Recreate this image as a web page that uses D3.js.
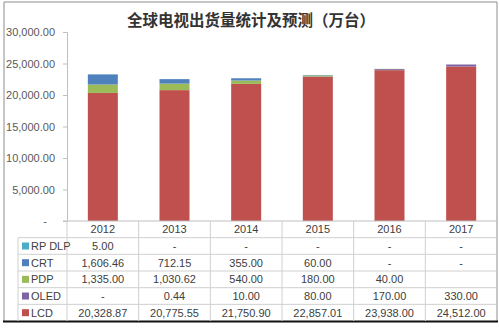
<!DOCTYPE html>
<html>
<head>
<meta charset="utf-8">
<script src="https://cdn.jsdelivr.net/npm/d3@7/dist/d3.min.js"></script>
<style>
  html, body { margin: 0; padding: 0; background: #fff; }
  svg { display: block; }
</style>
</head>
<body>
<svg id="chart" width="499" height="328"></svg>
<script>
// Global TV shipments by display technology (万台)
const years = ["2012", "2013", "2014", "2015", "2016", "2017"];
// stacking order, bottom to top
const seriesNames = ["LCD", "OLED", "PDP", "CRT", "RP DLP"];
const lcd   = [20328.87, 20775.55, 21750.90, 22857.01, 23938.00, 24512.00];
const oled  = [0, 0.44, 10.00, 80.00, 170.00, 330.00];
const pdp   = [1335.00, 1030.62, 540.00, 180.00, 40.00, null];
const crt   = [1606.46, 712.15, 355.00, 60.00, 0, 0];
const rpdlp = [5.00, 0, 0, 0, 0, 0];
const yTicks = [0, 5000, 10000, 15000, 20000, 25000, 30000];
const titleText = "全球电视出货量统计及预测（万台）";

const seriesValues = { "LCD": lcd, "OLED": oled, "PDP": pdp, "CRT": crt, "RP DLP": rpdlp };
const colors = { "LCD": "#C0504D", "OLED": "#8064A2", "PDP": "#9BBB59", "CRT": "#4F81BD", "RP DLP": "#4BACC6" };

const svg = d3.select("#chart");
const W = 499, H = 328;
const plot = { left: 67, right: 497, top: 32, bottom: 221 };
const tableLeft = 18, rowH = 16.67;
const txt = "#404040";
const lineCol = "#d0d0d0";
const font = "'Liberation Sans', Arial, sans-serif";

// frame
svg.append("rect").attr("width", W).attr("height", H).attr("fill", "#fff");
svg.append("path")
  .attr("d", `M4,321 L4,2 L497,2 L497,321`)
  .attr("fill", "none").attr("stroke", "#8c8c8c").attr("stroke-width", 1);
svg.append("line").attr("x1", 3).attr("x2", 498).attr("y1", 321.5).attr("y2", 321.5)
  .attr("stroke", "#111").attr("stroke-width", 2);

// title
svg.append("text")
  .attr("x", 251).attr("y", 26)
  .attr("text-anchor", "middle")
  .attr("font-family", "'Noto Sans CJK SC', sans-serif")
  .attr("font-weight", 600)
  .attr("font-size", 15.5)
  .attr("fill", "#333")
  .text(titleText);

// scales
const x = d3.scaleBand().domain(years).range([plot.left, plot.right]).paddingInner(0).paddingOuter(0);
const y = d3.scaleLinear().domain([0, 30000]).range([plot.bottom, plot.top]);

// stacked bars
const rows = years.map((yr, i) => {
  const r = { year: yr };
  seriesNames.forEach(s => { r[s] = seriesValues[s][i] || 0; });
  return r;
});
const stack = d3.stack().keys(seriesNames)(rows);
const barW = 30;
svg.append("g").selectAll("g")
  .data(stack).join("g")
  .attr("fill", d => colors[d.key])
  .selectAll("rect")
  .data(d => d).join("rect")
  .attr("x", d => x(d.data.year) + x.bandwidth() / 2 - barW / 2)
  .attr("width", barW)
  .attr("y", d => y(d[1]))
  .attr("height", d => Math.max(0, y(d[0]) - y(d[1])));

// y axis
const yAxis = d3.axisLeft(y)
  .tickValues(yTicks)
  .tickSize(4)
  .tickFormat(v => v === 0 ? "-" : d3.format(",.2f")(v));
const ga = svg.append("g").attr("transform", `translate(${plot.left},0)`).call(yAxis);
ga.select(".domain").attr("stroke", "#bfbfbf");
ga.selectAll(".tick line").attr("stroke", "#bfbfbf");
ga.selectAll(".tick text")
  .attr("x", -12)
  .attr("font-family", font).attr("font-size", 11).attr("fill", "#595959");
ga.selectAll(".tick").filter(d => d === 0).select("text").attr("x", -20);

// data table
const tbl = svg.append("g");
const tableRows = ["RP DLP", "CRT", "PDP", "OLED", "LCD"];
const tableBottom = plot.bottom + rowH * 6;

// horizontal lines
for (let k = 0; k < 6; k++) {
  const yy = plot.bottom + rowH * k;
  tbl.append("line")
    .attr("x1", k === 0 ? plot.left - 4 : tableLeft).attr("x2", plot.right)
    .attr("y1", yy).attr("y2", yy)
    .attr("stroke", k === 0 ? "#bfbfbf" : lineCol);
}
// vertical lines
years.forEach(yr => {
  tbl.append("line")
    .attr("x1", x(yr)).attr("x2", x(yr))
    .attr("y1", plot.bottom).attr("y2", tableBottom)
    .attr("stroke", lineCol);
});
tbl.append("line")
  .attr("x1", tableLeft).attr("x2", tableLeft)
  .attr("y1", plot.bottom + rowH).attr("y2", tableBottom)
  .attr("stroke", lineCol);

// header: years
tbl.selectAll("text.yr").data(years).join("text")
  .attr("class", "yr")
  .attr("x", d => x(d) + x.bandwidth() / 2)
  .attr("y", plot.bottom + rowH / 2 + 4)
  .attr("text-anchor", "middle")
  .attr("font-family", font).attr("font-size", 11).attr("fill", txt)
  .text(d => d);

// series rows
const fmt = d3.format(",.2f");
tableRows.forEach((s, r) => {
  const cy = plot.bottom + rowH * (r + 1) + rowH / 2;
  tbl.append("rect")
    .attr("x", 22).attr("y", cy - 3.5).attr("width", 7).attr("height", 7)
    .attr("fill", colors[s]);
  tbl.append("text")
    .attr("x", 31).attr("y", cy + 4)
    .attr("font-family", font).attr("font-size", 11).attr("fill", txt)
    .text(s);
  seriesValues[s].forEach((v, i) => {
    tbl.append("text")
      .attr("x", x(years[i]) + x.bandwidth() / 2)
      .attr("y", cy + 4)
      .attr("text-anchor", "middle")
      .attr("font-family", font).attr("font-size", 11).attr("fill", txt)
      .text(v === null ? "" : (v === 0 ? "-" : fmt(v)));
  });
});
</script>
</body>
</html>
